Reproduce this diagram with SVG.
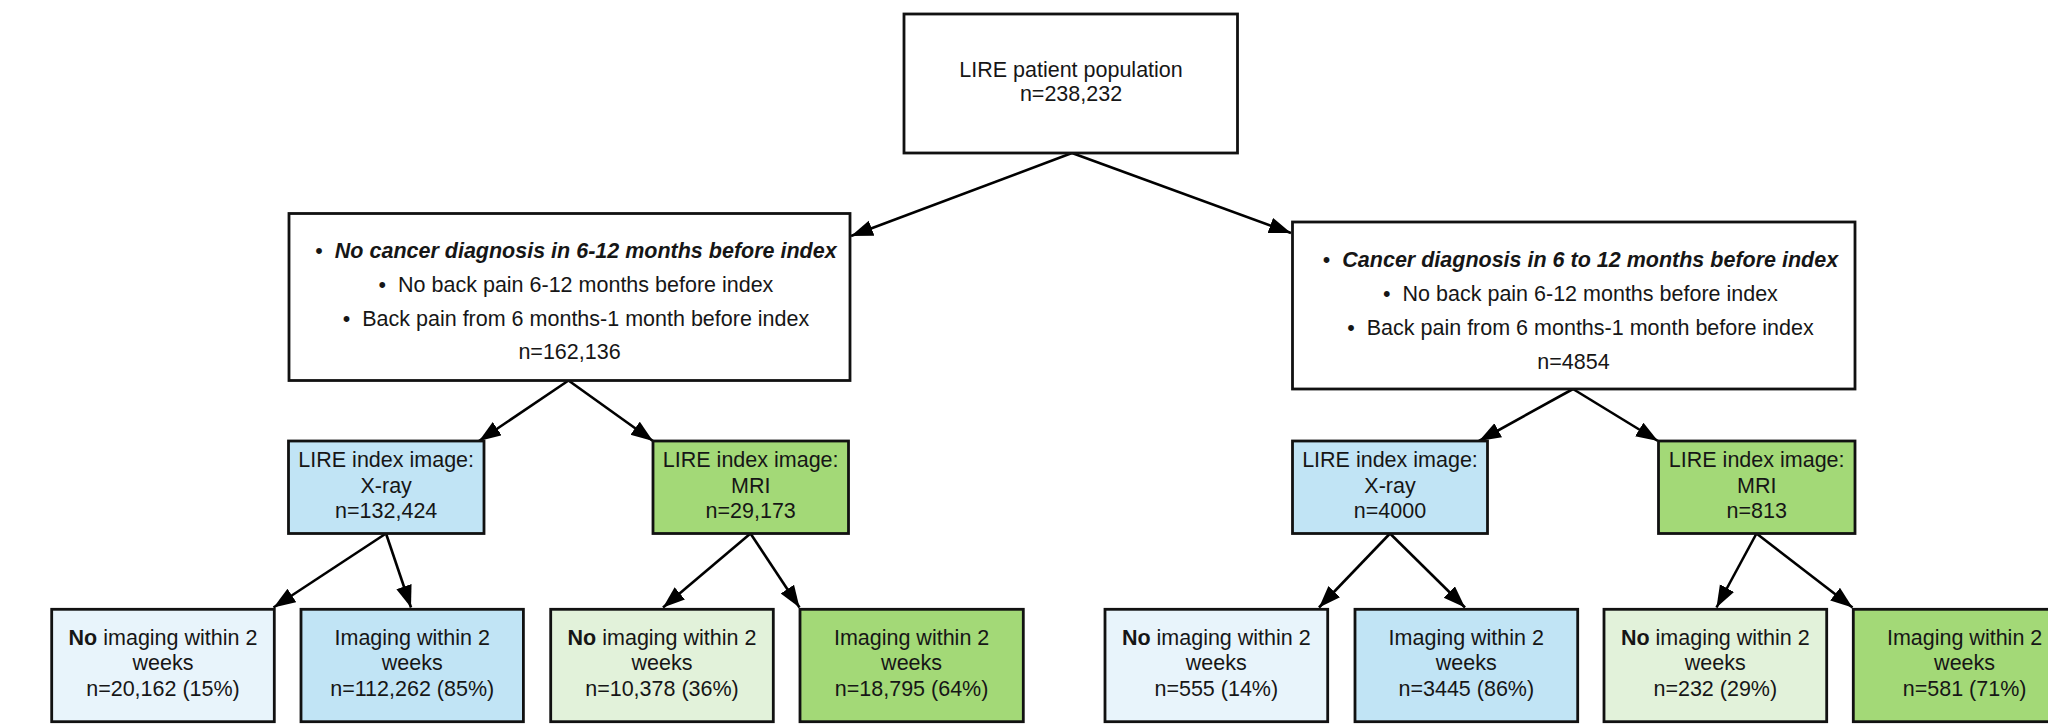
<svg xmlns="http://www.w3.org/2000/svg" width="2048" height="724" viewBox="0 0 2048 724">
<defs>
<marker id="arr" markerUnits="userSpaceOnUse" markerWidth="24" markerHeight="18" refX="22" refY="8" orient="auto">
<path d="M0,0 L22,8 L0,16 Z" fill="#000"/>
</marker>
<style>
.box{stroke:#111;stroke-width:2.8}
.w{fill:#ffffff}
.xb{fill:#c1e4f5}
.mg{fill:#a3d977}
.lb{fill:#e8f4fb}
.lg{fill:#e2f2da}
text{font-family:"Liberation Sans",Arial,sans-serif;font-size:21.5px;fill:#161616;text-anchor:middle}
.bi{font-weight:bold;font-style:italic}
.b{font-weight:bold}
.con line{stroke:#000;stroke-width:2.6;marker-end:url(#arr)}
</style>
</defs>
<rect width="2048" height="724" fill="#ffffff"/>
<g class="con" id="connectors">
<line x1="1072" y1="153" x2="851" y2="236"/>
<line x1="1072" y1="153" x2="1291" y2="233"/>
<line x1="568.5" y1="380.5" x2="479" y2="441"/>
<line x1="568.5" y1="380.5" x2="653" y2="441"/>
<line x1="386" y1="533.5" x2="273.5" y2="607.5"/>
<line x1="386" y1="533.5" x2="411" y2="607.5"/>
<line x1="750.5" y1="533.5" x2="663" y2="607.5"/>
<line x1="750.5" y1="533.5" x2="799.5" y2="607.5"/>
<line x1="1573" y1="389" x2="1479" y2="441"/>
<line x1="1573" y1="389" x2="1658" y2="441"/>
<line x1="1390" y1="533.5" x2="1319" y2="607.5"/>
<line x1="1390" y1="533.5" x2="1465" y2="607.5"/>
<line x1="1756.5" y1="533.5" x2="1716.5" y2="607.5"/>
<line x1="1756.5" y1="533.5" x2="1852.5" y2="607.5"/>
</g>
<g id="top">
<rect class="box w" x="904" y="14" width="333.5" height="139"/>
<text x="1071" y="76.7">LIRE patient population</text>
<text x="1071" y="100.9">n=238,232</text>
</g>
<g id="no-cancer">
<rect class="box w" x="289" y="213.5" width="561" height="167"/>
<text x="576" y="258"><tspan>•&#160;&#160;</tspan><tspan class="bi">No cancer diagnosis in 6-12 months before index</tspan></text>
<text x="576" y="291.8">•&#160;&#160;No back pain 6-12 months before index</text>
<text x="576" y="325.6">•&#160;&#160;Back pain from 6 months-1 month before index</text>
<text x="569.5" y="359.4">n=162,136</text>
</g>
<g id="cancer">
<rect class="box w" x="1292.5" y="222" width="562.5" height="167"/>
<text x="1580.5" y="267"><tspan>•&#160;&#160;</tspan><tspan class="bi">Cancer diagnosis in 6 to 12 months before index</tspan></text>
<text x="1580.5" y="301">•&#160;&#160;No back pain 6-12 months before index</text>
<text x="1580.5" y="335">•&#160;&#160;Back pain from 6 months-1 month before index</text>
<text x="1573.5" y="368.5">n=4854</text>
</g>
<g id="xray-left">
<rect class="box xb" x="288.5" y="441" width="195.5" height="92.5"/>
<text x="386.2" y="467">LIRE index image:</text>
<text x="386.2" y="492.5">X-ray</text>
<text x="386.2" y="518">n=132,424</text>
</g>
<g id="mri-left">
<rect class="box mg" x="653" y="441" width="195.5" height="92.5"/>
<text x="750.7" y="467">LIRE index image:</text>
<text x="750.7" y="492.5">MRI</text>
<text x="750.7" y="518">n=29,173</text>
</g>
<g id="xray-right">
<rect class="box xb" x="1292.5" y="441" width="195" height="92.5"/>
<text x="1390" y="467">LIRE index image:</text>
<text x="1390" y="492.5">X-ray</text>
<text x="1390" y="518">n=4000</text>
</g>
<g id="mri-right">
<rect class="box mg" x="1658.5" y="441" width="196.5" height="92.5"/>
<text x="1756.7" y="467">LIRE index image:</text>
<text x="1756.7" y="492.5">MRI</text>
<text x="1756.7" y="518">n=813</text>
</g>
<g id="b1">
<rect class="box lb" x="51.7" y="609.3" width="222.6" height="112.4"/>
<text x="163" y="644.5"><tspan class="b">No</tspan> imaging within 2</text>
<text x="163" y="670">weeks</text>
<text x="163" y="695.5">n=20,162 (15%)</text>
</g>
<g id="b2">
<rect class="box xb" x="301" y="609.3" width="222.4" height="112.4"/>
<text x="412.2" y="644.5">Imaging within 2</text>
<text x="412.2" y="670">weeks</text>
<text x="412.2" y="695.5">n=112,262 (85%)</text>
</g>
<g id="b3">
<rect class="box lg" x="550.7" y="609.3" width="222.6" height="112.4"/>
<text x="662" y="644.5"><tspan class="b">No</tspan> imaging within 2</text>
<text x="662" y="670">weeks</text>
<text x="662" y="695.5">n=10,378 (36%)</text>
</g>
<g id="b4">
<rect class="box mg" x="800" y="609.3" width="223.3" height="112.4"/>
<text x="911.6" y="644.5">Imaging within 2</text>
<text x="911.6" y="670">weeks</text>
<text x="911.6" y="695.5">n=18,795 (64%)</text>
</g>
<g id="b5">
<rect class="box lb" x="1105" y="609.3" width="222.7" height="112.4"/>
<text x="1216.3" y="644.5"><tspan class="b">No</tspan> imaging within 2</text>
<text x="1216.3" y="670">weeks</text>
<text x="1216.3" y="695.5">n=555 (14%)</text>
</g>
<g id="b6">
<rect class="box xb" x="1355" y="609.3" width="222.7" height="112.4"/>
<text x="1466.3" y="644.5">Imaging within 2</text>
<text x="1466.3" y="670">weeks</text>
<text x="1466.3" y="695.5">n=3445 (86%)</text>
</g>
<g id="b7">
<rect class="box lg" x="1604" y="609.3" width="222.7" height="112.4"/>
<text x="1715.3" y="644.5"><tspan class="b">No</tspan> imaging within 2</text>
<text x="1715.3" y="670">weeks</text>
<text x="1715.3" y="695.5">n=232 (29%)</text>
</g>
<g id="b8">
<rect class="box mg" x="1853.3" y="609.3" width="222.7" height="112.4"/>
<text x="1964.6" y="644.5">Imaging within 2</text>
<text x="1964.6" y="670">weeks</text>
<text x="1964.6" y="695.5">n=581 (71%)</text>
</g>
</svg>
